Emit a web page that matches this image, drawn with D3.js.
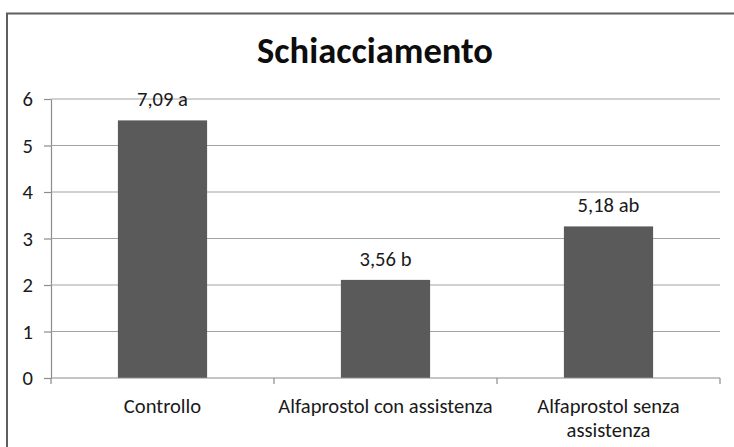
<!DOCTYPE html>
<html>
<head>
<meta charset="utf-8">
<script src="https://cdn.jsdelivr.net/npm/d3@7"></script>
<style>
  html, body { margin: 0; padding: 0; background: #ffffff; overflow: hidden; }
  svg { display: block; }
  text { font-family: Carlito, Lato, "Open Sans", sans-serif; fill: #1a1a1a; }
</style>
</head>
<body>
<script>
// ---- data ----
const categories = ["Controllo", "Alfaprostol con assistenza", "Alfaprostol senza assistenza"];
const values = [5.54, 2.11, 3.26];
const barLabels = ["7,09 a", "3,56 b", "5,18 ab"];
const yTicks = [0, 1, 2, 3, 4, 5, 6];
const title = "Schiacciamento";

// ---- layout ----
const W = 734, H = 447;
const plot = { left: 51, right: 720, top: 99, bottom: 378 };
const labelSize = 20.6;

const svg = d3.select("body").append("svg")
  .attr("width", W).attr("height", H);

// chart frame: only left and top edges are visible (cropped on right and bottom)
svg.append("path")
  .attr("d", `M7,${H} L7,13.5 L${W},13.5`)
  .attr("fill", "none")
  .attr("stroke", "#5e5e5e")
  .attr("stroke-width", 2);

const x = d3.scaleBand()
  .domain(categories)
  .range([plot.left, plot.right])
  .paddingInner(0.6)
  .paddingOuter(0.3);

const y = d3.scaleLinear()
  .domain([0, 6])
  .range([plot.bottom, plot.top]);

// title
svg.append("text")
  .attr("x", 375).attr("y", 63)
  .attr("text-anchor", "middle")
  .attr("font-size", 36.5)
  .attr("font-weight", "bold")
  .style("fill", "#0d0d0d")
  .text(title);

// y axis
const yAxis = d3.axisLeft(y)
  .tickValues(yTicks)
  .tickSize(7)
  .tickSizeOuter(0)
  .tickPadding(11)
  .tickFormat(d3.format("d"));

const gy = svg.append("g")
  .attr("transform", `translate(${plot.left},0)`)
  .call(yAxis);
gy.select(".domain").attr("stroke", "#8c8c8c").attr("stroke-width", 1.2);
gy.selectAll(".tick line").attr("stroke", "#8c8c8c").attr("stroke-width", 1.2);
gy.selectAll(".tick text")
  .attr("font-size", labelSize)
  .style("font-family", "Carlito, Lato, 'Open Sans', sans-serif")
  .style("fill", "#1a1a1a");

// gridlines
svg.append("g")
  .selectAll("line")
  .data(yTicks.filter(d => d > 0))
  .join("line")
  .attr("x1", plot.left).attr("x2", plot.right)
  .attr("y1", d => y(d)).attr("y2", d => y(d))
  .attr("stroke", "#a3a3a3")
  .attr("stroke-width", 1.2);

// bars
svg.append("g")
  .selectAll("rect")
  .data(categories)
  .join("rect")
  .attr("x", d => x(d))
  .attr("width", x.bandwidth())
  .attr("y", (d, i) => y(values[i]))
  .attr("height", (d, i) => y(0) - y(values[i]))
  .attr("fill", "#5a5a5a");

// x axis line and category boundary ticks
const outer = x.step() * x.paddingOuter();
const bounds = categories.map(c => x(c) - outer)
  .concat([x(categories[categories.length - 1]) + x.bandwidth() + outer]);

svg.append("line")
  .attr("x1", plot.left).attr("x2", plot.right)
  .attr("y1", y(0)).attr("y2", y(0))
  .attr("stroke", "#8c8c8c").attr("stroke-width", 1.2);

svg.append("g")
  .selectAll("line")
  .data(bounds)
  .join("line")
  .attr("x1", d => d).attr("x2", d => d)
  .attr("y1", y(0)).attr("y2", y(0) + 6)
  .attr("stroke", "#8c8c8c").attr("stroke-width", 1.2);

// data labels
svg.append("g")
  .selectAll("text")
  .data(categories)
  .join("text")
  .attr("x", d => x(d) + x.bandwidth() / 2)
  .attr("y", (d, i) => y(values[i]) - 14)
  .attr("text-anchor", "middle")
  .attr("font-size", labelSize)
  .text((d, i) => barLabels[i]);

// category labels (wrapped to the category width)
const catText = svg.append("g")
  .selectAll("text")
  .data(categories)
  .join("text")
  .attr("x", d => x(d) + x.bandwidth() / 2)
  .attr("y", 413)
  .attr("text-anchor", "middle")
  .attr("font-size", labelSize);

catText.each(function (d) {
  const t = d3.select(this);
  const words = d.split(" ");
  const maxW = x.step();
  let lines = [], line = [];
  const probe = t.append("tspan");
  words.forEach(w => {
    const test = line.concat([w]).join(" ");
    probe.text(test);
    if (probe.node().getComputedTextLength() > maxW && line.length) {
      lines.push(line.join(" "));
      line = [w];
    } else {
      line.push(w);
    }
  });
  lines.push(line.join(" "));
  probe.remove();
  const cx = t.attr("x");
  lines.forEach((l, i) => {
    t.append("tspan")
      .attr("x", cx)
      .attr("dy", i === 0 ? 0 : 24)
      .text(l);
  });
});
</script>
</body>
</html>
